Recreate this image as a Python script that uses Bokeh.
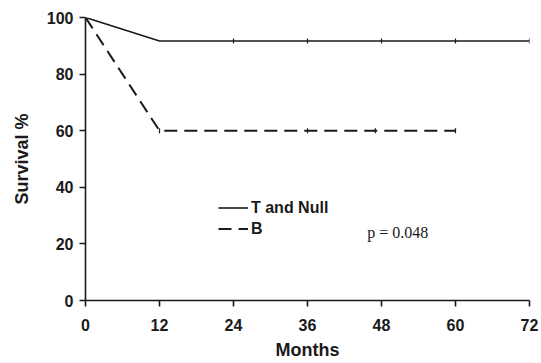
from bokeh.plotting import figure
from bokeh.models import Range1d, FixedTicker, Legend, LegendItem, Label
from bokeh.embed import file_html
from bokeh.resources import INLINE

# Data
t_months = [0, 12, 24, 36, 48, 60, 72]
t_surv = [100, 91.7, 91.7, 91.7, 91.7, 91.7, 91.7]
t_censor_x = [24, 36, 48, 60, 72]
t_censor_y = [91.7, 91.7, 91.7, 91.7, 91.7]

b_months = [0, 12, 24, 36, 48, 60]
b_surv = [100, 60, 60, 60, 60, 60]
b_censor_x = [12, 36, 47, 60]
b_censor_y = [60, 60, 60, 60]

x_ticks = [0, 12, 24, 36, 48, 60, 72]
y_ticks = [0, 20, 40, 60, 80, 100]

INK = "#1a1a1a"
FONT = "Liberation Sans"

p = figure(width=541, height=363, output_backend="svg", toolbar_location=None,
           x_range=Range1d(0, 72), y_range=Range1d(0, 100),
           min_border_left=85, min_border_right=12, min_border_top=17, min_border_bottom=63)

p.xgrid.visible = False
p.ygrid.visible = False
p.outline_line_color = None
p.background_fill_color = "white"

t_line = p.line(t_months, t_surv, line_color=INK, line_width=1.6)
p.scatter(t_censor_x, t_censor_y, marker="dash", angle=1.5708, size=5, line_color=INK, line_width=1.2)

b_line = p.line(b_months, b_surv, line_color=INK, line_width=2, line_dash="13 7")
p.scatter(b_censor_x, b_censor_y, marker="dash", angle=1.5708, size=5, line_color=INK, line_width=1.2)

for ax in (p.xaxis[0], p.yaxis[0]):
    ax.axis_line_color = INK
    ax.axis_line_width = 1.6
    ax.major_tick_line_color = INK
    ax.major_tick_line_width = 1.6
    ax.major_tick_out = 6
    ax.major_tick_in = 0
    ax.minor_tick_line_color = None
    ax.major_label_text_font = FONT
    ax.major_label_text_font_style = "bold"
    ax.major_label_text_font_size = "16px"
    ax.major_label_text_color = INK
    ax.axis_label_text_font = FONT
    ax.axis_label_text_font_style = "bold"
    ax.axis_label_text_font_size = "18px"
    ax.axis_label_text_color = INK

p.xaxis.ticker = FixedTicker(ticks=x_ticks)
p.yaxis.ticker = FixedTicker(ticks=y_ticks)
p.xaxis.axis_label = "Months"
p.yaxis.axis_label = "Survival %"
p.xaxis.major_label_standoff = 12
p.yaxis.major_label_standoff = 6
p.xaxis.axis_label_standoff = 6
p.yaxis.axis_label_standoff = 12

legend = Legend(items=[LegendItem(label="T and Null", renderers=[t_line]),
                       LegendItem(label="B", renderers=[b_line])],
                location=(133, 62), orientation="vertical",
                background_fill_alpha=0, border_line_color=None,
                padding=0, margin=0, spacing=2,
                glyph_width=30, glyph_height=19, label_height=19,
                label_standoff=3,
                label_text_font=FONT, label_text_font_style="bold",
                label_text_font_size="16px", label_text_color=INK)
p.add_layout(legend, "center")

p.add_layout(Label(x=45.7, y=24, text="p = 0.048", text_font="Liberation Serif",
                   text_font_size="16px", text_color=INK, text_baseline="middle"))

open("out.html", "w").write(file_html(p, INLINE))
